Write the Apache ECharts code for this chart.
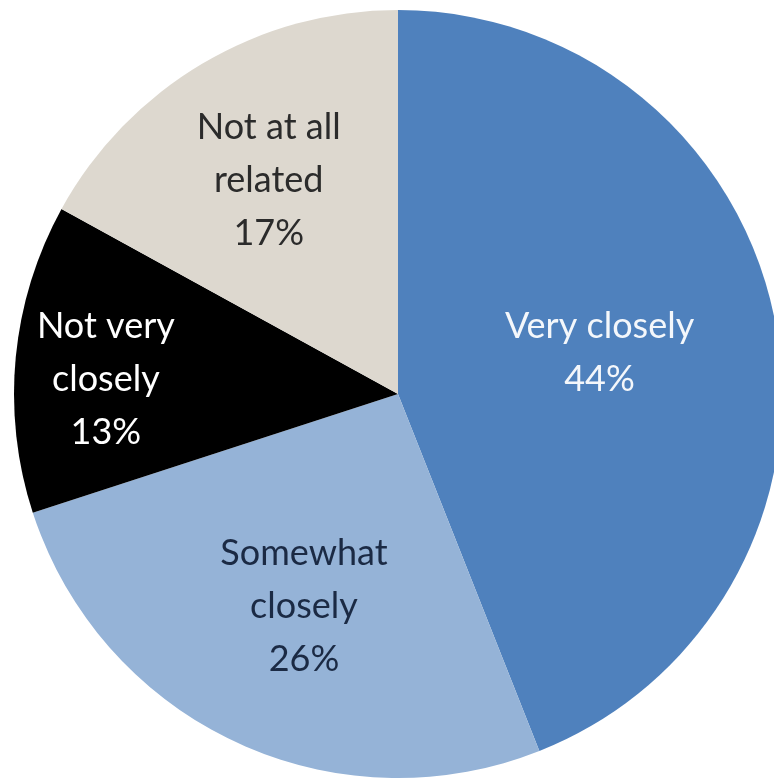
<!DOCTYPE html>
<html>
<head>
<meta charset="utf-8">
<script src="https://cdn.jsdelivr.net/npm/echarts@6/dist/echarts.min.js"></script>
<style>
html,body{margin:0;padding:0;background:#fff;}
#chart{width:774px;height:780px;}
</style>
</head>
<body>
<div id="chart"></div>
<script>
const categories = ['Very closely', 'Somewhat closely', 'Not very closely', 'Not at all related'];
const labelLines = ['Very closely', 'Somewhat\nclosely', 'Not very\nclosely', 'Not at all\nrelated'];
const values = [44, 26, 13, 17];
const colors = ['#4F81BD', '#95B3D7', '#000000', '#DDD8CF'];
const textColors = ['#F4F7FB', '#1B2A44', '#FFFFFF', '#2B2B2B'];
const labelShift = [[10, -5], [-11, 36], [-98, 4], [-30, -46]];

const chart = echarts.init(document.getElementById('chart'));
chart.setOption({
  animation: false,
  series: [{
    type: 'pie',
    center: [398, 394],
    radius: 384,
    startAngle: 90,
    clockwise: true,
    avoidLabelOverlap: false,
    itemStyle: { borderWidth: 0 },
    label: {
      show: true,
      position: 'inside',
      fontFamily: 'Lato',
      fontWeight: 400,
      fontSize: 36,
      lineHeight: 53,
      align: 'center',
      formatter: p => labelLines[p.dataIndex] + '\n' + p.value + '%'
    },
    labelLayout: p => ({ dx: labelShift[p.dataIndex][0], dy: labelShift[p.dataIndex][1] }),
    emphasis: { disabled: true },
    data: categories.map((c, i) => ({
      name: c,
      value: values[i],
      itemStyle: { color: colors[i] },
      label: { color: textColors[i] }
    }))
  }]
});
</script>
</body>
</html>
